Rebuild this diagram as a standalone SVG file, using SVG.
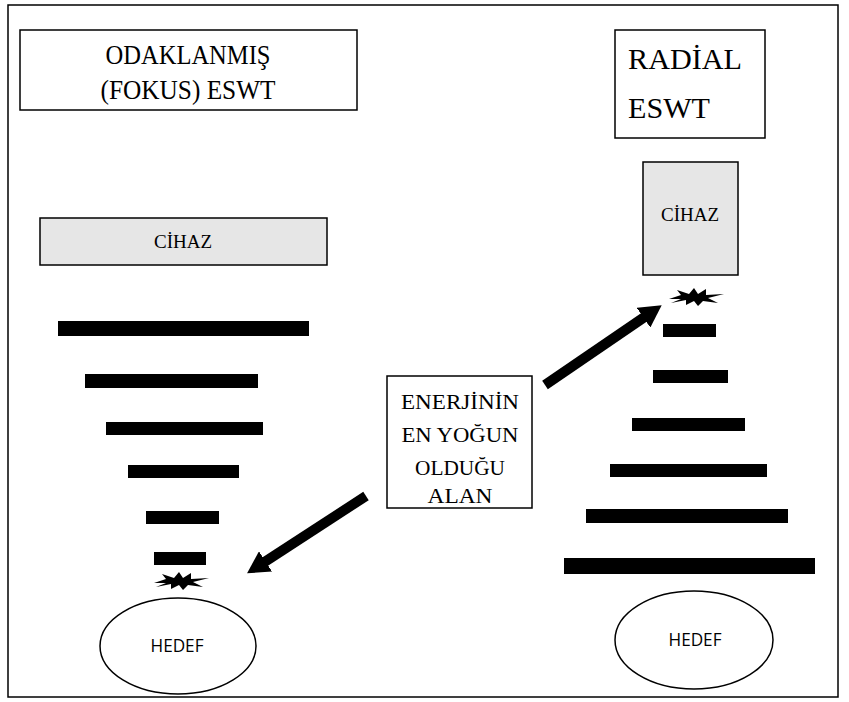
<svg xmlns="http://www.w3.org/2000/svg" width="849" height="702" viewBox="0 0 849 702">
<defs>
<style>
.box{fill:#fff;stroke:#000;stroke-width:1.5}
.dev{fill:#e6e6e6;stroke:#000;stroke-width:1.5}
.bar{fill:#000}
.arrow{stroke:#000;stroke-width:10;fill:none}
</style>
<marker id="ah" markerWidth="2.4" markerHeight="2.4" refX="0.3" refY="1.2" orient="auto" markerUnits="strokeWidth">
<path d="M0,0 L2.2,1.2 L0,2.4 Z" fill="#000"/>
</marker>
<polygon id="burst" fill="#000" points="-27,1 -15,-3 -19,-8 -7,-4 -2,-10 2,-4 10,-9 10,-3 28,-4 12,0 22,5 7,3 2,8 -2,3 -10,7 -10,2 -25,5 -15,1"/>
</defs>
<rect x="8" y="5" width="830" height="692" fill="#fff" stroke="#000" stroke-width="1.5"/>

<g id="left-title">
<rect class="box" x="20" y="30" width="337" height="80"/>
<text font-family="'Liberation Serif','DejaVu Serif','Noto Serif',serif" font-size="27" text-anchor="middle" x="188" y="64" textLength="165" lengthAdjust="spacingAndGlyphs">ODAKLANMIŞ</text>
<text font-family="'Liberation Serif','DejaVu Serif','Noto Serif',serif" font-size="27" text-anchor="middle" x="188" y="99" textLength="175" lengthAdjust="spacingAndGlyphs">(FOKUS) ESWT</text>
</g>

<g id="right-title">
<rect class="box" x="615" y="30" width="150" height="108"/>
<text font-family="'Liberation Serif','DejaVu Serif','Noto Serif',serif" font-size="29" x="628" y="69" textLength="114" lengthAdjust="spacingAndGlyphs">RADİAL</text>
<text font-family="'Liberation Serif','DejaVu Serif','Noto Serif',serif" font-size="29" x="628" y="118" textLength="82" lengthAdjust="spacingAndGlyphs">ESWT</text>
</g>

<g id="left-device">
<rect class="dev" x="40" y="218" width="287" height="47"/>
<text font-family="'Liberation Serif','DejaVu Serif','Noto Serif',serif" font-size="19" text-anchor="middle" x="183" y="248">CİHAZ</text>
</g>

<g id="right-device">
<rect class="dev" x="643" y="162" width="95" height="113"/>
<text font-family="'Liberation Serif','DejaVu Serif','Noto Serif',serif" font-size="19" text-anchor="middle" x="690" y="221">CİHAZ</text>
</g>

<g id="left-waves">
<rect class="bar" x="58" y="321" width="251" height="15"/>
<rect class="bar" x="85" y="374" width="173" height="14"/>
<rect class="bar" x="106" y="422" width="157" height="13"/>
<rect class="bar" x="128" y="465" width="111" height="13"/>
<rect class="bar" x="146" y="511" width="73" height="13"/>
<rect class="bar" x="154" y="552" width="52" height="13"/>
<use href="#burst" x="181" y="582"/>
</g>

<g id="right-waves">
<use href="#burst" x="696" y="298"/>
<rect class="bar" x="663" y="324" width="53" height="13"/>
<rect class="bar" x="653" y="370" width="75" height="13"/>
<rect class="bar" x="632" y="418" width="113" height="13"/>
<rect class="bar" x="610" y="464" width="157" height="13"/>
<rect class="bar" x="586" y="509" width="202" height="14"/>
<rect class="bar" x="564" y="558" width="251" height="16"/>
</g>

<g id="center-label">
<rect class="box" x="387" y="376" width="145" height="132"/>
<g font-family="'Liberation Serif','DejaVu Serif','Noto Serif',serif" font-size="22" text-anchor="middle">
<text x="460" y="409" textLength="118" lengthAdjust="spacingAndGlyphs">ENERJİNİN</text>
<text x="460" y="442" textLength="117" lengthAdjust="spacingAndGlyphs">EN YOĞUN</text>
<text x="460" y="475" textLength="90" lengthAdjust="spacingAndGlyphs">OLDUĞU</text>
<text x="460" y="503" textLength="65" lengthAdjust="spacingAndGlyphs">ALAN</text>
</g>
</g>

<g id="left-target">
<ellipse class="box" cx="178" cy="646" rx="78" ry="48"/>
<text font-family="'Open Sans','Liberation Sans',sans-serif" font-size="19" text-anchor="middle" x="177" y="652" textLength="53" lengthAdjust="spacingAndGlyphs">HEDEF</text>
</g>

<g id="right-target">
<ellipse class="box" cx="694" cy="640" rx="79" ry="49"/>
<text font-family="'Open Sans','Liberation Sans',sans-serif" font-size="19" text-anchor="middle" x="695" y="646" textLength="53" lengthAdjust="spacingAndGlyphs">HEDEF</text>
</g>

<g id="connectors">
<line class="arrow" x1="545" y1="385" x2="646" y2="316" marker-end="url(#ah)"/>
<line class="arrow" x1="366" y1="496" x2="263" y2="563" marker-end="url(#ah)"/>
</g>
</svg>
